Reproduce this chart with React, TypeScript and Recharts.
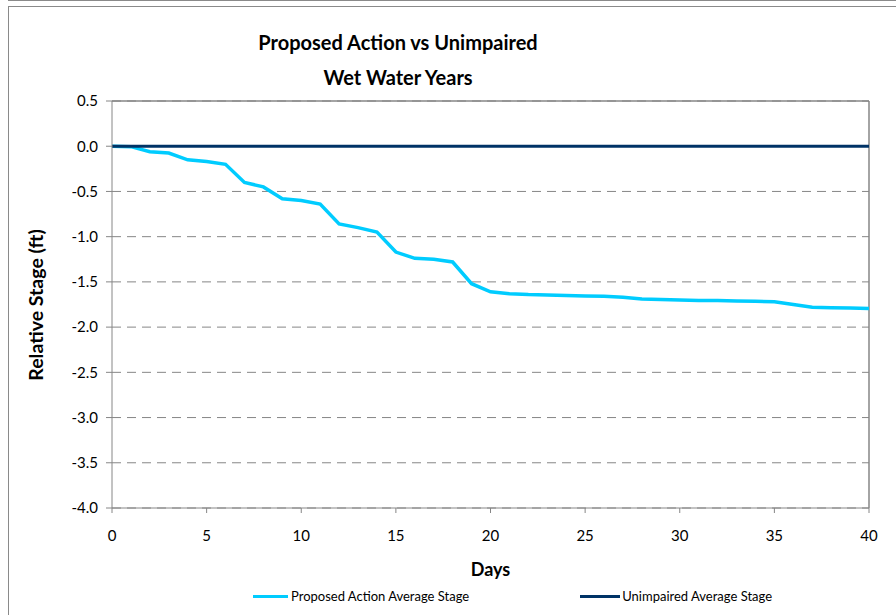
import React from "react"
import {
  LineChart,
  Line,
  XAxis,
  YAxis,
  CartesianGrid,
  ReferenceLine,
  Label,
} from "recharts"

const days = [
  0, 1, 2, 3, 4, 5, 6, 7, 8, 9, 10, 11, 12, 13, 14, 15, 16, 17, 18, 19, 20,
  21, 22, 23, 24, 25, 26, 27, 28, 29, 30, 31, 32, 33, 34, 35, 36, 37, 38, 39, 40,
]

const proposedStage = [
  0, -0.005, -0.06, -0.075, -0.15, -0.17, -0.2, -0.4, -0.45, -0.58, -0.6,
  -0.64, -0.86, -0.9, -0.95, -1.17, -1.24, -1.25, -1.28, -1.52, -1.61,
  -1.63, -1.64, -1.645, -1.65, -1.655, -1.66, -1.67, -1.69, -1.695, -1.7,
  -1.705, -1.705, -1.71, -1.715, -1.72, -1.75, -1.78, -1.785, -1.79, -1.795,
]

const unimpairedStage = days.map(() => 0)

const xTicks = [0, 5, 10, 15, 20, 25, 30, 35, 40]
const yTicks = [-4, -3.5, -3, -2.5, -2, -1.5, -1, -0.5, 0, 0.5]

const data = days.map((d, i) => ({
  day: d,
  proposed: proposedStage[i],
  unimpaired: unimpairedStage[i],
}))

const FONT = "Lato, 'Open Sans', sans-serif"
const AXIS = "#868686"

export default function App() {
  return (
    <div
      style={{
        position: "fixed",
        left: 0,
        top: 0,
        width: 896,
        height: 615,
        background: "#fff",
        fontFamily: FONT,
        overflow: "hidden",
      }}
    >
      {/* frame lines */}
      <div style={{ position: "absolute", left: 8, top: 0, right: 0, height: 1, background: "#8a8a8a" }} />
      <div
        style={{
          position: "absolute",
          left: 8,
          top: 6,
          width: 900,
          height: 620,
          borderLeft: "1px solid #8a8a8a",
          borderTop: "1px solid #8a8a8a",
        }}
      />
      <div
        style={{
          position: "absolute",
          left: 98,
          width: 600,
          top: 25,
          textAlign: "center",
          fontWeight: 700,
          fontSize: 20,
          lineHeight: "35px",
          color: "#000",
        }}
      >
        Proposed Action vs Unimpaired
        <br />
        Wet Water Years
      </div>

      <div style={{ position: "absolute", left: 0, top: 0 }}>
        <LineChart
          width={896}
          height={615}
          data={data}
          margin={{ top: 101, right: 27, bottom: 77, left: 52 }}
        >
          <CartesianGrid vertical={false} stroke={AXIS} strokeDasharray="9 6" />
          <XAxis
            dataKey="day"
            type="number"
            domain={[0, 40]}
            ticks={xTicks}
            stroke={AXIS}
            tick={{ fill: "#000", fontSize: 15, fontFamily: FONT, dy: 15 }}
            tickSize={5}
            height={30}
          >
            <Label
              value="Days"
              position="insideBottom"
              offset={-38}
              fontSize={18}
              fontWeight={700}
              fill="#000"
              fontFamily={FONT}
            />
          </XAxis>
          <YAxis
            type="number"
            domain={[-4, 0.5]}
            ticks={yTicks}
            stroke={AXIS}
            tickFormatter={(v: number) => v.toFixed(1)}
            tick={{ fill: "#000", fontSize: 15, fontFamily: FONT }}
            tickSize={6}
            tickMargin={8}
            width={60}
            interval={0}
          />
          <ReferenceLine y={0.5} stroke={AXIS} strokeWidth={1.5} />
          <ReferenceLine x={40} stroke={AXIS} strokeWidth={1.5} />
          <Line
            dataKey="proposed"
            stroke="#00CCFF"
            strokeWidth={3.5}
            dot={false}
            isAnimationActive={false}
            type="linear"
          />
          <Line
            dataKey="unimpaired"
            stroke="#003366"
            strokeWidth={3}
            dot={false}
            isAnimationActive={false}
            type="linear"
          />
        </LineChart>
      </div>

      {/* y axis title */}
      <div
        style={{
          position: "absolute",
          left: 35,
          top: 305,
          transform: "translate(-50%, -50%) rotate(-90deg)",
          fontSize: 19.5,
          fontWeight: 700,
          color: "#000",
          whiteSpace: "nowrap",
        }}
      >
        Relative Stage (ft)
      </div>

      {/* legend */}
      <div
        style={{
          position: "absolute",
          top: 588,
          left: 253,
          fontSize: 13,
          color: "#000",
          display: "flex",
          alignItems: "center",
          whiteSpace: "nowrap",
        }}
      >
        <span style={{ display: "inline-block", width: 35, height: 3, background: "#00CCFF", marginRight: 3 }} />
        <span>Proposed Action Average Stage</span>
        <span style={{ display: "inline-block", width: 40, height: 3, background: "#003366", marginLeft: 111, marginRight: 2 }} />
        <span>Unimpaired Average Stage</span>
      </div>
    </div>
  )
}
